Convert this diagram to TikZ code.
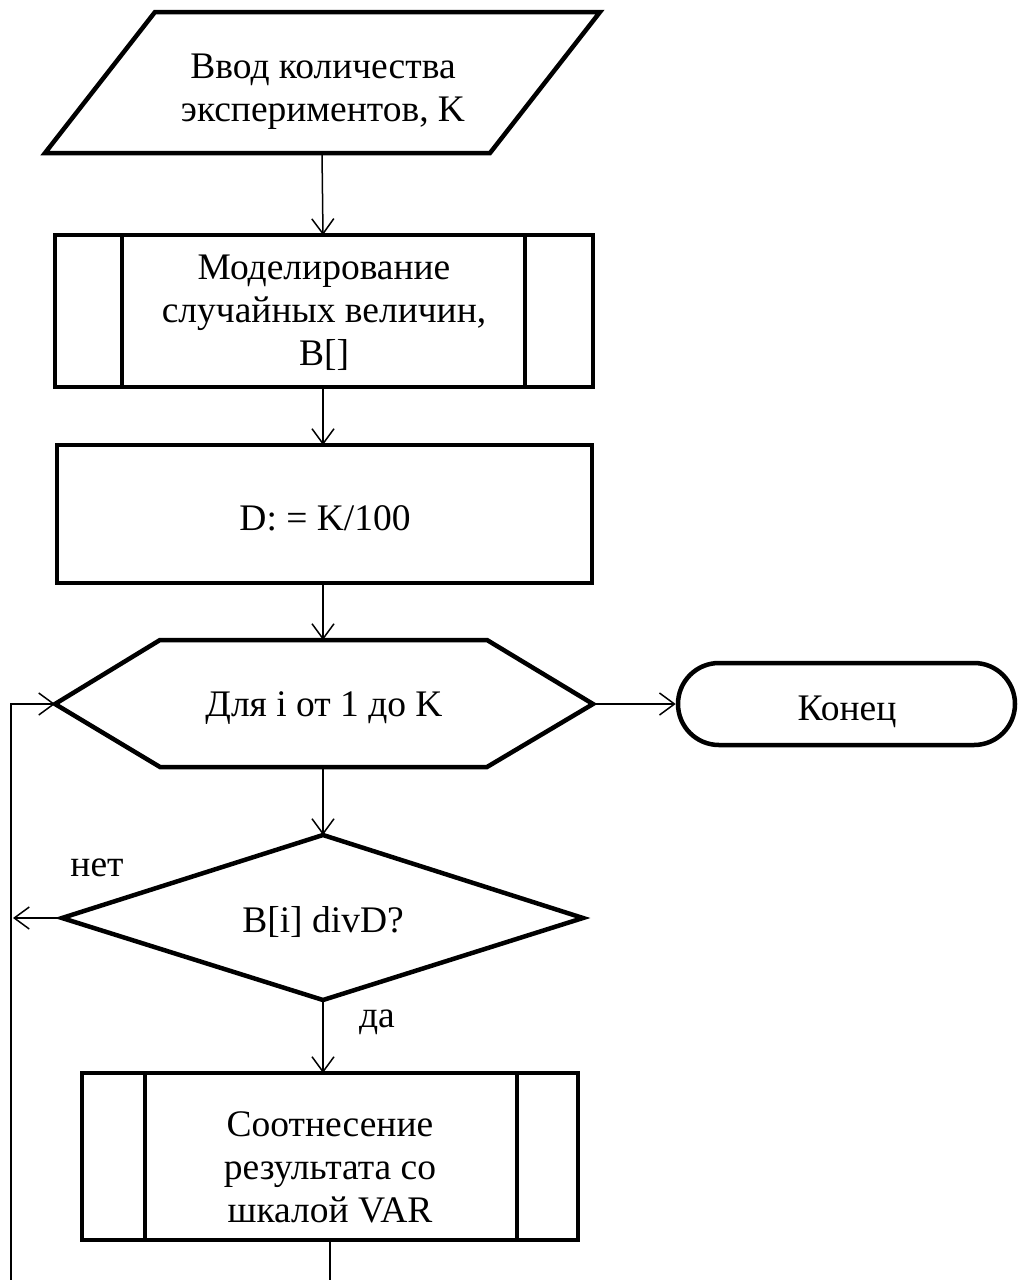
\documentclass[tikz,border=0pt]{standalone}
\usepackage{fontspec}
\setmainfont{Liberation Serif}
\usetikzlibrary{arrows.meta,shapes.misc}
\tikzset{
  shapeline/.style={line width=4.5pt, line join=miter},
  conn/.style={line width=1.5pt, -{Straight Barb[length=15pt,width=22pt,line width=1.5pt]}},
  wire/.style={line width=1.5pt},
  txt/.style={align=center, font=\fontsize{37.5}{43}\selectfont, inner sep=0pt},
  lbl/.style={font=\fontsize{37.5}{43}\selectfont, inner sep=0pt},
}
\begin{document}
\begin{tikzpicture}[x=1pt,y=-1pt]
\useasboundingbox (0,0) rectangle (1018,1280);

% input: parallelogram
\draw[shapeline] (155,12) -- (600,12) -- (490,153) -- (45,153) -- cycle;
\node[txt] (in) at (323,92) {Ввод количества\\экспериментов, K};
\coordinate (inS) at (322,153);

% predefined process 1
\node[shapeline, draw, rectangle, minimum width=538pt, minimum height=152pt, inner sep=0pt] (sub1) at (324,311) {};
\draw[shapeline] (122,235) -- (122,387) (525,235) -- (525,387);
\node[txt] at (324,313) {Моделирование\\случайных величин,\\B[]};

% process
\node[shapeline, draw, rectangle, minimum width=535pt, minimum height=138pt, inner sep=0pt] (proc) at (324.5,514) {};
\node[txt] at (325,518) {D: = K/100};

% loop: hexagon
\draw[shapeline] (55,704) -- (160,640) -- (487,640) -- (593,704) -- (487,767) -- (160,767) -- cycle;
\node[txt] (hex) at (324,708) {Для i от 1 до K};
\coordinate (hexN) at (323,640);
\coordinate (hexS) at (323,767);
\coordinate (hexW) at (55,704);
\coordinate (hexE) at (593,704);

% terminator
\node[shapeline, draw, rounded rectangle, minimum width=337pt, minimum height=82pt, inner sep=0pt] (term) at (846.5,704) {};
\node[txt] at (847,712) {Конец};

% decision
\draw[shapeline] (62,918) -- (323,835) -- (583,918) -- (323,1000) -- cycle;
\node[txt] (dec) at (323,922) {B[i] divD?};
\coordinate (decN) at (323,835);
\coordinate (decS) at (323,1000);
\coordinate (decW) at (62,918);

% predefined process 2
\node[shapeline, draw, rectangle, minimum width=496pt, minimum height=167pt, inner sep=0pt] (sub2) at (330,1156.5) {};
\draw[shapeline] (145,1073) -- (145,1240) (517,1073) -- (517,1240);
\node[txt] at (330,1167) {Соотнесение\\результата со\\шкалой VAR};

% connectors
\draw[conn] (inS) -- (323,235);
\draw[conn] (323,387) -- (323,445);
\draw[conn] (323,583) -- (hexN);
\draw[conn] (hexE) -- (term.west);
\draw[conn] (hexS) -- (decN);
\draw[conn] (decS) -- (323,1073);
\draw[conn] (decW) -- (13,918);
\node[lbl] at (97,868) {нет};
\node[lbl] at (377,1022) {да};

% return path of the loop
\coordinate (back) at (11,1280);
\draw[wire] (330,1240) -- (330,1280);
\draw[conn] (back) -- (11,704) -- (hexW);
\end{tikzpicture}
\end{document}
